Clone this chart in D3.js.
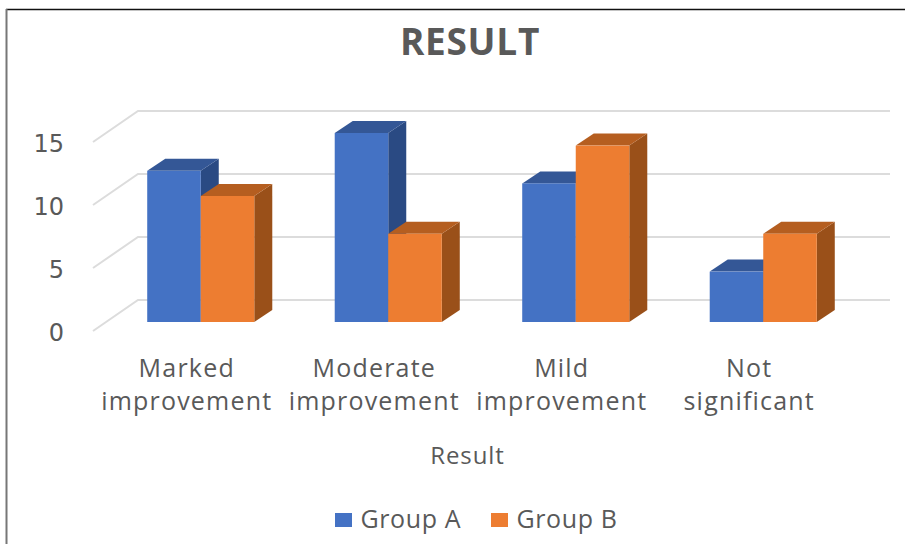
<!DOCTYPE html>
<html>
<head>
<meta charset="utf-8">
<script src="https://cdn.jsdelivr.net/npm/d3@7/dist/d3.min.js"></script>
<style>
  html, body { margin: 0; padding: 0; background: #fff; }
  svg { display: block; }
  text { font-family: "Open Sans", sans-serif; fill: #595959; }
</style>
</head>
<body>
<script>
const categories = [["Marked", "improvement"], ["Moderate", "improvement"], ["Mild", "improvement"], ["Not", "significant"]];
const seriesNames = ["Group A", "Group B"];
const groupA = [12, 15, 11, 4];
const groupB = [10, 7, 14, 7];
const yTicks = [0, 5, 10, 15];

const frontColors = ["#4472c4", "#ed7d31"];
const sideColors = ["#2a4a83", "#9a5019"];
const topColors = ["#345796", "#b55e20"];

const width = 905, height = 544;
const svg = d3.select("body").append("svg").attr("width", width).attr("height", height);

const y = d3.scaleLinear().domain([0, 15]).range([322, 133]);
const x0 = d3.scaleBand().domain(d3.range(categories.length)).range([107, 857])
  .paddingInner(0.429).paddingOuter(0.2145);
const x1 = d3.scaleBand().domain(d3.range(seriesNames.length)).range([0, x0.bandwidth()]);

// Depth of a bar and of the chart floor, as oblique offsets
const barDepth = { dx: 18, dy: -12 };
const wallDepth = { dx: 45, dy: -31 };
const wallShift = 9; // front edge of the floor sits below the bar baseline

// Frame
svg.append("line").attr("x1", 6).attr("x2", width).attr("y1", 9.5).attr("y2", 9.5).attr("stroke", "#111").attr("stroke-width", 1.5);
svg.append("line").attr("x1", 6.5).attr("x2", 6.5).attr("y1", 9).attr("y2", height).attr("stroke", "#777").attr("stroke-width", 2);

// Gridlines: a diagonal on the side wall, then a run along the back wall
const grid = svg.append("g").attr("fill", "none").attr("stroke", "#dcdcdc").attr("stroke-width", 2);
yTicks.forEach(t => {
  const yf = y(t) + wallShift;
  grid.append("path").attr("d", d3.line()([
    [93, yf],
    [93 + wallDepth.dx, yf + wallDepth.dy],
    [890, yf + wallDepth.dy]
  ]));
});

// Y axis labels
svg.append("g").selectAll("text").data(yTicks).join("text")
  .attr("x", 64).attr("y", d => y(d) + wallShift + 10)
  .attr("text-anchor", "end").attr("font-size", 24)
  .style("font-family", "'DejaVu Sans', sans-serif").text(d => d);

// Bars, drawn left to right so a later front face covers the earlier side face
const poly = pts => d3.line()(pts) + "Z";
const bars = svg.append("g");
categories.forEach((c, i) => {
  [groupA, groupB].forEach((vals, s) => {
    const xl = x0(i) + x1(s), xr = xl + x1.bandwidth();
    const yt = y(vals[i]), yb = y(0);
    const { dx, dy } = barDepth;
    const g = bars.append("g");
    g.append("path").attr("fill", sideColors[s])
      .attr("d", poly([[xr, yt], [xr + dx, yt + dy], [xr + dx, yb + dy], [xr, yb]]));
    g.append("path").attr("fill", topColors[s])
      .attr("d", poly([[xl, yt], [xl + dx, yt + dy], [xr + dx, yt + dy], [xr, yt]]));
    g.append("rect").attr("fill", frontColors[s])
      .attr("x", xl).attr("y", yt).attr("width", xr - xl).attr("height", yb - yt);
  });
});

// Category labels
const labels = svg.append("g").attr("text-anchor", "middle").attr("font-size", 25).attr("letter-spacing", 1.2);
categories.forEach((c, i) => {
  const cx = x0(i) + x0.bandwidth() / 2 - 14;
  c.forEach((line, k) => {
    labels.append("text").attr("x", cx).attr("y", 377 + k * 33).text(line);
  });
});

// Titles
svg.append("text").attr("x", 470).attr("y", 55).attr("text-anchor", "middle")
  .attr("font-size", 37).attr("letter-spacing", 0.7).attr("font-weight", 700).text("RESULT");
svg.append("text").attr("x", 467.5).attr("y", 464).attr("text-anchor", "middle")
  .attr("font-size", 24).attr("letter-spacing", 0.9).text("Result");

// Legend
const legendX = [335, 491];
const legend = svg.append("g").selectAll("g").data(seriesNames).join("g")
  .attr("transform", (d, i) => `translate(${legendX[i]},0)`);
legend.append("rect").attr("y", 513).attr("width", 17).attr("height", 14)
  .attr("fill", (d, i) => frontColors[i]);
legend.append("text").attr("x", 25.5).attr("y", 528).attr("font-size", 25).attr("letter-spacing", 0.6).text(d => d);
</script>
</body>
</html>
